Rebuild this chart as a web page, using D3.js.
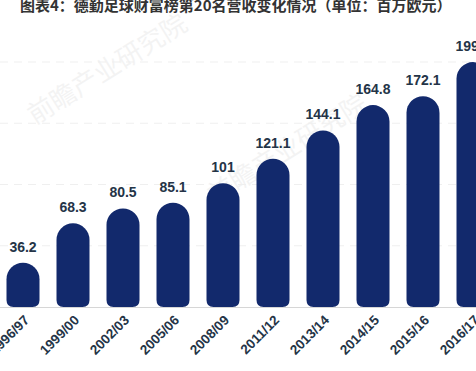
<!DOCTYPE html>
<html lang="zh">
<head>
<meta charset="UTF-8">
<title>德勤足球财富榜第20名营收</title>
<script src="https://d3js.org/d3.v7.min.js"></script>
<style>
    body { margin: 0; background: #fff; }
    .label { font-family: "Liberation Sans", Arial, sans-serif; font-weight: bold; font-size: 14px; fill: #243447; }
    .tick-label { font-family: "Liberation Sans", Arial, sans-serif; font-weight: bold; font-size: 13.5px; fill: #243447; }
    .title { font-family: "Noto Sans CJK SC", sans-serif; font-weight: bold; font-size: 15px; fill: #333; }
    .wm { font-family: "Noto Sans CJK SC", sans-serif; font-size: 26px; fill: #000; opacity: 0.045; }
</style>
</head>
<body>
<svg id="svg" width="476" height="371"></svg>
<script>

let seasons = ['1996/97', '1999/00', '2002/03', '2005/06', '2008/09', '2011/12', '2013/14', '2014/15', '2015/16', '2016/17'];
let revenue = [36.2, 68.3, 80.5, 85.1, 101, 121.1, 144.1, 164.8, 172.1, 199.9];
let gridValues = [50, 100, 150, 200];

let svg = d3.select('#svg');

let x = d3.scalePoint()
    .domain(seasons)
    .range([23, 473]);

let y = d3.scaleLinear()
    .domain([0, 200])
    .range([307, 62]);

let barW = 33;

// watermark
let wms = [[35, 125], [215, 205]];
svg.selectAll('.wm')
    .data(wms)
    .enter()
    .append('text')
    .attr('class', 'wm')
    .attr('transform', d => `translate(${d[0]},${d[1]}) rotate(-32)`)
    .text('前瞻产业研究院');

// faint gridlines
svg.selectAll('.grid')
    .data(gridValues)
    .enter()
    .append('line')
    .attr('x1', 0).attr('x2', 476)
    .attr('y1', d => y(d)).attr('y2', d => y(d))
    .attr('stroke', '#efefef')
    .attr('stroke-dasharray', '8,6');

// baseline
svg.append('line')
    .attr('x1', 0).attr('x2', 476)
    .attr('y1', y(0) + 0.5).attr('y2', y(0) + 0.5)
    .attr('stroke', '#d6d6d6');

// pill bars: round top, slightly rounded bottom
function pill(cx, top, bottom) {
    let r = barW / 2, rb = 7;
    let l = cx - r, rr = cx + r;
    let p = d3.path();
    p.moveTo(l, bottom - rb);
    p.lineTo(l, top + r);
    p.arc(cx, top + r, r, Math.PI, 0);
    p.lineTo(rr, bottom - rb);
    p.quadraticCurveTo(rr, bottom, rr - rb, bottom);
    p.lineTo(l + rb, bottom);
    p.quadraticCurveTo(l, bottom, l, bottom - rb);
    p.closePath();
    return p.toString();
}

svg.selectAll('.bar')
    .data(revenue)
    .enter()
    .append('path')
    .attr('class', 'bar')
    .attr('fill', '#12296c')
    .attr('d', (d, i) => pill(x(seasons[i]), y(d), y(0)));

svg.selectAll('.label')
    .data(revenue)
    .enter()
    .append('text')
    .attr('class', 'label')
    .attr('x', (d, i) => x(seasons[i]))
    .attr('y', d => y(d) - 11)
    .attr('text-anchor', 'middle')
    .text(d => d);

// rotated x labels
svg.selectAll('.tick-label')
    .data(seasons)
    .enter()
    .append('text')
    .attr('class', 'tick-label')
    .attr('transform', d => `translate(${x(d) + 7},${y(0) + 14}) rotate(-45)`)
    .attr('text-anchor', 'end')
    .text(d => d);

svg.append('text')
    .attr('class', 'title')
    .attr('x', 20)
    .attr('y', 11)
    .text('图表4：德勤足球财富榜第20名营收变化情况（单位：百万欧元）');

</script>
</body>
</html>
